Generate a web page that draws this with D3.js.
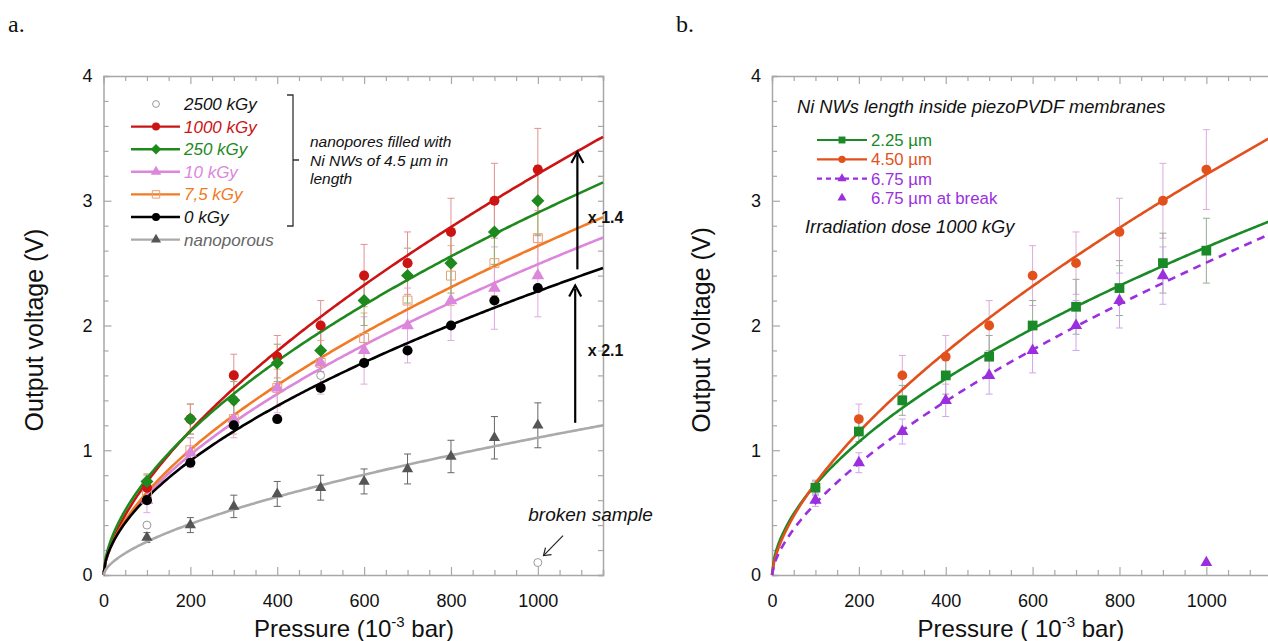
<!DOCTYPE html>
<html><head><meta charset="utf-8">
<script src="https://cdn.jsdelivr.net/npm/d3@7"></script>
<style>
body{margin:0;background:#fff;}
svg{display:block;font-family:"Liberation Sans",Arial,Helvetica,sans-serif;}
</style>
</head><body>
<svg id="chart" width="1268" height="641"></svg>
<script>
// ---------- DATA ----------
const pressure = [100,200,300,400,500,600,700,800,900,1000];
const xTickLabels = [0,200,400,600,800,1000];
const yTickLabels = [0,1,2,3,4];

// Panel a (irradiation dose series)
const v1000kGy    = [0.70,1.25,1.60,1.75,2.00,2.40,2.50,2.75,3.00,3.25];
const v250kGy     = [0.75,1.25,1.40,1.70,1.80,2.20,2.40,2.50,2.75,3.00];
const v10kGy      = [0.60,0.98,1.25,1.50,1.70,1.80,2.00,2.20,2.30,2.40];
const v7_5kGy     = [0.65,1.00,1.25,1.50,1.70,1.90,2.20,2.40,2.50,2.70];
const v0kGy       = [0.60,0.90,1.20,1.25,1.50,1.70,1.80,2.00,2.20,2.30];
const vNanoporous = [0.30,0.40,0.55,0.65,0.70,0.75,0.85,0.95,1.10,1.20];
const p2500kGy    = [100,500,1000];
const v2500kGy    = [0.40,1.60,0.10];

const e1000kGy    = [0.10,0.12,0.17,0.17,0.20,0.25,0.25,0.27,0.30,0.33];
const e250kGy     = [0.06,0.12,0.15,0.15,0.17,0.20,0.22,0.24,0.26,0.28];
const e10kGy      = [0.10,0.12,0.15,0.20,0.25,0.27,0.30,0.32,0.33,0.33];
const e7_5kGy     = [0.08,0.10,0.12,0.15,0.18,0.20,0.22,0.24,0.26,0.28];
const eNanoporous = [0.04,0.06,0.09,0.10,0.10,0.10,0.12,0.13,0.17,0.18];

// power-law fit V = a * P^b
const fitNames_a = ["1000 kGy","250 kGy","10 kGy","7,5 kGy","0 kGy","nanoporous"];
const fitA_a     = [0.0400,0.0547,0.0423,0.0418,0.0459,0.01573];
const fitB_a     = [0.635,0.575,0.59,0.60,0.565,0.615];

// Panel b (Ni NW length, 1000 kGy)
const vb225   = [0.70,1.15,1.40,1.60,1.75,2.00,2.15,2.30,2.50,2.60];
const vb450   = [0.70,1.25,1.60,1.75,2.00,2.40,2.50,2.75,3.00,3.25];
const pb675   = [100,200,300,400,500,600,700,800,900];
const vb675   = [0.60,0.90,1.15,1.40,1.60,1.80,2.00,2.20,2.40];
const pbBreak = [1000];
const vbBreak = [0.10];
const eb225   = [0.06,0.08,0.12,0.15,0.17,0.20,0.22,0.22,0.24,0.26];
const eb450   = [0.05,0.12,0.16,0.17,0.20,0.24,0.25,0.27,0.30,0.32];
const eb675   = [0.05,0.08,0.10,0.13,0.15,0.18,0.20,0.22,0.23];
const fitA_b  = [0.0549,0.0386,0.0301];
const fitB_b  = [0.56,0.64,0.64];

// ---------- DRAW ----------
const svg = d3.select("#chart");
const FONT = '"Liberation Sans",Arial,sans-serif';

function makePanel(left, withRight) {
  const x = d3.scaleLinear().domain([0,1150]).range([left, left+499.5]);
  const y = d3.scaleLinear().domain([0,4]).range([575,76]);
  const g = svg.append("g");
  const axCol = "#a8a8a8";
  const xt = d3.range(0,1151,50), yt = d3.range(0,4.001,0.2).map(v=>+v.toFixed(1));
  const fmtX = d => xTickLabels.includes(d) ? d : "";
  const fmtY = d => yTickLabels.includes(d) ? d : "";
  const bottom = g.append("g").attr("transform","translate(0,575)")
    .call(d3.axisBottom(x).tickValues(xt).tickSize(-5).tickPadding(19).tickFormat(fmtX));
  const top = g.append("g").attr("transform","translate(0,76)")
    .call(d3.axisTop(x).tickValues(xt).tickSize(-5).tickFormat(""));
  const leftAx = g.append("g").attr("transform",`translate(${left},0)`)
    .call(d3.axisLeft(y).tickValues(yt).tickSize(-5).tickPadding(11).tickFormat(fmtY));
  const axes = [bottom, top, leftAx];
  if (withRight) {
    axes.push(g.append("g").attr("transform",`translate(${left+499.5},0)`)
      .call(d3.axisRight(y).tickValues(yt).tickSize(-5).tickFormat("")));
  }
  axes.forEach(a => {
    a.select(".domain").attr("stroke",axCol).attr("stroke-width",1.5);
    a.selectAll(".tick line").attr("stroke",axCol).attr("stroke-width",1.2);
    a.selectAll(".tick text").attr("font-size",18).attr("font-family",FONT).attr("fill","#111");
  });
  bottom.selectAll(".tick line").filter(d=>xTickLabels.includes(d)).attr("y2",-8);
  top.selectAll(".tick line").filter(d=>xTickLabels.includes(d)).attr("y2",8);
  leftAx.selectAll(".tick line").filter(d=>yTickLabels.includes(d)).attr("x2",8);
  return {x, y, g};
}

function fitCurve(P, a, b, color, width, dash) {
  const xs = d3.range(0, 1150.01, 5);
  const line = d3.line().x(d=>P.x(d)).y(d=>P.y(a*Math.pow(d,b)));
  P.g.append("path").attr("d", line(xs)).attr("fill","none").attr("stroke",color)
    .attr("stroke-width",width).attr("stroke-dasharray",dash||null);
}
function errorBars(P, xs, vs, es, color) {
  const eg = P.g.append("g").attr("stroke",color).attr("stroke-width",1);
  xs.forEach((p,i)=>{
    const cx = P.x(p), y1 = P.y(vs[i]-es[i]), y2 = P.y(vs[i]+es[i]);
    eg.append("line").attr("x1",cx).attr("x2",cx).attr("y1",y1).attr("y2",y2);
    eg.append("line").attr("x1",cx-3.5).attr("x2",cx+3.5).attr("y1",y1).attr("y2",y1);
    eg.append("line").attr("x1",cx-3.5).attr("x2",cx+3.5).attr("y1",y2).attr("y2",y2);
  });
}
function markers(P, xs, vs, type, size, fill, stroke, rot) {
  const sym = d3.symbol().type(type).size(size);
  P.g.append("g").selectAll("path").data(xs).join("path")
    .attr("d", sym())
    .attr("transform",(d,i)=>`translate(${P.x(d)},${P.y(vs[i])}) rotate(${rot||0})`)
    .attr("fill",fill).attr("stroke",stroke||"none").attr("stroke-width",1);
}
function text(x,y,str,opts) {
  opts = opts||{};
  return svg.append("text").attr("x",x).attr("y",y).text(str)
    .attr("font-family",opts.family||FONT).attr("font-size",opts.size||16)
    .attr("font-style",opts.italic?"italic":"normal").attr("font-weight",opts.bold?"bold":"normal")
    .attr("fill",opts.color||"#111").attr("text-anchor",opts.anchor||"start");
}

// ---- Panel a ----
const A = makePanel(103.5, true);
const colA = {red:"#cc1414", green:"#1e8a1e", pink:"#dc86dc", orange:"#f27a24", black:"#000", grey:"#aaaaaa", greyM:"#555"};
const fitColors_a = [colA.red, colA.green, colA.pink, colA.orange, colA.black, colA.grey];

errorBars(A, pressure, vNanoporous, eNanoporous, "#666");
errorBars(A, pressure, v7_5kGy, e7_5kGy, "#e8b080");
errorBars(A, pressure, v10kGy, e10kGy, "#e2a8e2");
errorBars(A, pressure, v250kGy, e250kGy, "#8fae6a");
errorBars(A, pressure, v1000kGy, e1000kGy, "#e49090");
fitA_a.forEach((a,i)=>fitCurve(A, a, fitB_a[i], fitColors_a[i], 2.6));
markers(A, pressure, vNanoporous, d3.symbolTriangle, 55, colA.greyM);
markers(A, p2500kGy, v2500kGy, d3.symbolCircle, 50, "#fff", "#999");
markers(A, pressure, v7_5kGy, d3.symbolSquare, 80, "none", "#e8a070");
markers(A, pressure, v10kGy, d3.symbolTriangle, 70, colA.pink);
markers(A, pressure, v0kGy, d3.symbolCircle, 80, colA.black);
markers(A, pressure, v1000kGy, d3.symbolCircle, 80, colA.red);
markers(A, pressure, v250kGy, d3.symbolSquare, 85, colA.green, null, 45);

function arrowUp(P, xv, v0, v1) {
  const cx = P.x(xv), yb = P.y(v0), yt = P.y(v1);
  svg.append("line").attr("x1",cx).attr("x2",cx).attr("y1",yb).attr("y2",yt+3).attr("stroke","#000").attr("stroke-width",2.2);
  svg.append("path").attr("d",`M${cx-6},${yt+11} L${cx},${yt} L${cx+6},${yt+11}`).attr("fill","none").attr("stroke","#000").attr("stroke-width",2.2);
}
arrowUp(A, 1091, 2.45, 3.39);
arrowUp(A, 1086, 1.22, 2.32);
text(A.x(1115), A.y(2.87)+6, "x 1.4", {bold:true, size:16});
text(A.x(1115), A.y(1.80)+6, "x 2.1", {bold:true, size:16});
text(A.x(978), A.y(0.48)+6, "broken sample", {italic:true, size:19});
{
  const x1 = A.x(1058), y1 = A.y(0.315), x2 = A.x(1013), y2 = A.y(0.155);
  svg.append("line").attr("x1",x1).attr("y1",y1).attr("x2",x2).attr("y2",y2).attr("stroke","#222").attr("stroke-width",1.2);
  svg.append("path").attr("d",`M${x2+8},${y2-1} L${x2},${y2} L${x2+2},${y2-8}`).attr("fill","none").attr("stroke","#222").attr("stroke-width",1.2);
}

const legA = [
  {label:"2500 kGy", color:"#111", line:null, sym:d3.symbolCircle, size:36, fill:"#fff", stroke:"#999"},
  {label:"1000 kGy", color:colA.red, line:colA.red, sym:d3.symbolCircle, size:50, fill:colA.red},
  {label:"250 kGy", color:colA.green, line:colA.green, sym:d3.symbolSquare, size:55, fill:colA.green, rot:45},
  {label:"10 kGy", color:colA.pink, line:colA.pink, sym:d3.symbolTriangle, size:48, fill:colA.pink},
  {label:"7,5 kGy", color:colA.orange, line:colA.orange, sym:d3.symbolSquare, size:55, fill:"none", stroke:"#e8a070"},
  {label:"0 kGy", color:"#111", line:"#000", sym:d3.symbolCircle, size:50, fill:"#000"},
  {label:"nanoporous", color:"#666", line:colA.grey, sym:d3.symbolTriangle, size:44, fill:colA.greyM}
];
legA.forEach((d,i)=>{
  const cy = 104 + i*22.6;
  if (d.line) svg.append("line").attr("x1",131).attr("x2",180).attr("y1",cy).attr("y2",cy).attr("stroke",d.line).attr("stroke-width",2.4);
  svg.append("path").attr("d",d3.symbol().type(d.sym).size(d.size)()).attr("transform",`translate(156,${cy}) rotate(${d.rot||0})`)
    .attr("fill",d.fill).attr("stroke",d.stroke||"none");
  text(184, cy+6, d.label, {italic:true, size:17, color:d.color});
});
svg.append("path").attr("d","M287,95 L293,95 L293,226 L287,226 M293,160 L299,160").attr("fill","none").attr("stroke","#333").attr("stroke-width",1.3);
["nanopores filled with","Ni NWs of 4.5 µm in","length"].forEach((s,i)=>text(310, 147+i*18.5, s, {italic:true, size:15.5}));

// ---- Panel b ----
const B = makePanel(772, false);
const colB = {green:"#1a8a28", orange:"#e2501c", purple:"#9b2fe0"};
errorBars(B, pressure, vb450, eb450, "#dcaade");
errorBars(B, pressure, vb225, eb225, "#98ab98");
errorBars(B, pb675, vb675, eb675, "#cfa6ea");
fitCurve(B, fitA_b[0], fitB_b[0], colB.green, 2.6);
fitCurve(B, fitA_b[1], fitB_b[1], colB.orange, 2.6);
fitCurve(B, fitA_b[2], fitB_b[2], colB.purple, 2.6, "8,6");
markers(B, pressure, vb450, d3.symbolCircle, 75, colB.orange);
markers(B, pressure, vb225, d3.symbolSquare, 95, colB.green);
markers(B, pb675, vb675, d3.symbolTriangle, 65, colB.purple);
markers(B, pbBreak, vbBreak, d3.symbolTriangle, 60, colB.purple);

text(797, 113, "Ni NWs length inside piezoPVDF membranes", {italic:true, size:18.3});
const legB = [
  {label:"2.25 µm", color:colB.green, dash:null, sym:d3.symbolSquare, size:48},
  {label:"4.50 µm", color:colB.orange, dash:null, sym:d3.symbolCircle, size:42},
  {label:"6.75 µm", color:colB.purple, dash:"5,4", sym:d3.symbolTriangle, size:36},
  {label:"6.75 µm at break", color:colB.purple, dash:"none", sym:d3.symbolTriangle, size:36}
];
legB.forEach((d,i)=>{
  const cy = 140 + i*19.3;
  if (d.dash !== "none") svg.append("line").attr("x1",817).attr("x2",867).attr("y1",cy).attr("y2",cy)
    .attr("stroke",d.color).attr("stroke-width",2.2).attr("stroke-dasharray",d.dash);
  svg.append("path").attr("d",d3.symbol().type(d.sym).size(d.size)()).attr("transform",`translate(842,${cy})`).attr("fill",d.color);
  text(871, cy+6, d.label, {size:16.8, color:d.color});
});
text(805, 233, "Irradiation dose 1000 kGy", {italic:true, size:18.3});

function xTitle(cx, pre) {
  const t = svg.append("text").attr("x",cx).attr("y",637).attr("text-anchor","middle")
    .attr("font-family",FONT).attr("font-size",24).attr("fill","#111");
  t.append("tspan").text(pre);
  t.append("tspan").text("-3").attr("font-size",15).attr("dy",-10);
  t.append("tspan").text(" bar)").attr("dy",10);
}
xTitle(354, "Pressure (10");
xTitle(1021, "Pressure ( 10");
function yTitle(cx, str) {
  svg.append("text").attr("transform",`translate(${cx},330) rotate(-90)`).attr("text-anchor","middle")
    .attr("font-family",FONT).attr("font-size",25).attr("fill","#111").text(str);
}
yTitle(43, "Output voltage (V)");
yTitle(710, "Output Voltage (V)");
text(8, 32, "a.", {family:'"Liberation Serif","Times New Roman",serif', size:24});
text(676, 32, "b.", {family:'"Liberation Serif","Times New Roman",serif', size:24});
</script>
</body></html>
